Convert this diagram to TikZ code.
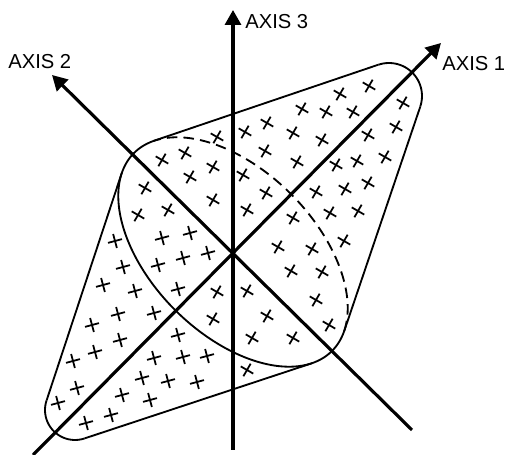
\documentclass[tikz,border=0pt]{standalone}
\usepackage{fontspec}
\setsansfont{Liberation Sans}
\usetikzlibrary{arrows.meta, shapes.misc}

\begin{document}
\begin{tikzpicture}[x=0.02cm, y=-0.02cm,
  axis/.style={line width=1.8pt, -{Triangle[length=0.3cm, width=0.32cm]}},
  hull/.style={line width=1.05pt},
  hidden/.style={hull, dash pattern=on 6pt off 3.5pt},
  cross/.style={draw, cross out, line width=1pt, minimum size=0.17cm, inner sep=0pt},
  plusa/.style={cross, rotate=15},
  plusb/.style={cross, rotate=60},
  axislabel/.style={font=\sffamily\fontsize{11.5}{13}\selectfont, inner sep=0pt, anchor=west}
]
  \useasboundingbox (0,0) rectangle (508,455);
  \fill[white] (0,0) rectangle (508,455);

  % origin and axis ends
  \coordinate (o) at (233,252);
  \coordinate (a1s) at (33,455);  \coordinate (a1e) at (441,43);
  \coordinate (a2s) at (412,430); \coordinate (a2e) at (52,75);
  \coordinate (a3s) at (233,450); \coordinate (a3e) at (233,10);

  % tangent points of the outline
  \coordinate (et) at (153.9,140.8); \coordinate (er) at (344.2,331.1);
  \coordinate (el) at (121.8,172.9); \coordinate (eb) at (312.1,363.2);
  \coordinate (ct1) at (378.4,64.7); \coordinate (ct2) at (420.3,106.6);
  \coordinate (cb1) at (84.6,438.4); \coordinate (cb2) at (46.6,400.4);

  % cross section: front solid, back dashed
  \draw[hull] plot[domain=163.9:376.1, samples=90, smooth]
    ({233+0.7071*(140*cos(\x)+82*sin(\x))}, {252+0.7071*(140*cos(\x)-82*sin(\x))});
  \draw[hidden] plot[domain=16.1:163.9, samples=60, smooth]
    ({233+0.7071*(140*cos(\x)+82*sin(\x))}, {252+0.7071*(140*cos(\x)-82*sin(\x))});

  % the two cones
  \draw[hull] (et) -- (ct1);
  \draw[hull] plot[domain=-108.7:18.7, samples=30, smooth] ({389+33*cos(\x)}, {96+33*sin(\x)});
  \draw[hull] (ct2) -- (er);
  \draw[hull] (eb) -- (cb1);
  \draw[hull] plot[domain=71.3:198.7, samples=30, smooth] ({75+30*cos(\x)}, {410+30*sin(\x)});
  \draw[hull] (cb2) -- (el);

  % points
  \foreach \p [count=\i] in {(217,137),(245,132),(162,160),(185,153),(213,167),(190,177),
      (243,175),(145,188),(213,200),(168,210),(138,215),(247,210),(369,86),(340,94),
      (302,109),(326,112),(353,112),(403,103),(267,123),(293,133),(322,140),(368,135),
      (396,127),(265,151),(297,162),(336,165),(357,161),(385,157),(266,193),(316,192),
      (345,189),(368,183),(293,218),(330,213),(358,211),(344,241),(278,247),(312,249),
      (291,271),(322,272),(316,300),(267,316),(329,325),(293,338),(217,292),(247,291),
      (213,319),(252,338),(247,370)}
    \node[plusa] (pa\i) at \p {};
  \foreach \p [count=\i] in {(115,241),(162,238),(190,233),(123,267),(158,265),(183,258),
      (208,253),(103,285),(135,291),(178,289),(118,314),(154,313),(92,325),(178,335),
      (120,340),(95,352),(154,358),(183,357),(207,356),(73,361),(142,378),(168,381),
      (197,382),(77,388),(122,395),(58,403),(150,400),(86,423),(111,415)}
    \node[plusb] (pb\i) at \p {};

  % axes
  \draw[axis] (a1s) -- (a1e);
  \draw[axis] (a2s) -- (a2e);
  \draw[axis] (a3s) -- (a3e);
  \node[axislabel] (l1) at (442,64) {AXIS 1};
  \node[axislabel] (l2) at (8,61.5) {AXIS 2};
  \node[axislabel] (l3) at (245,21.5) {AXIS 3};
\end{tikzpicture}
\end{document}
